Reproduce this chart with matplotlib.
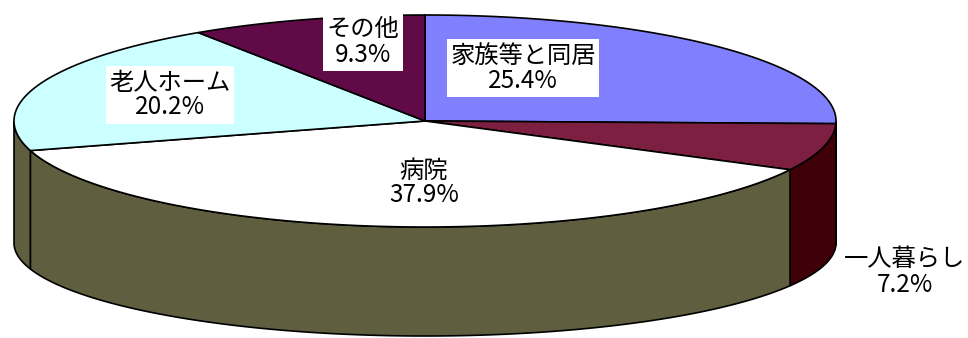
import numpy as np
import matplotlib.pyplot as plt
from matplotlib.patches import Polygon

plt.rcParams['font.family'] = ['Noto Sans CJK JP', 'DejaVu Sans']

# 退院先の内訳 (%)
labels = ['家族等と同居', '一人暮らし', '病院', '老人ホーム', 'その他']
shares = [25.4, 7.2, 37.9, 20.2, 9.3]
top_colors = ['#8080ff', '#7d1f40', '#ffffff', '#ccffff', '#600a48']
side_colors = ['#404080', '#3f0008', '#5f5f40', '#5f5f40', '#300024']

# ラベル位置 (ピクセル座標)
label_pos = [(523, 68), (905, 272), (424, 183), (170, 95), (363, 42)]

# 3D円グラフの形状
cx, cy = 425, 121
rx, ry = 411, 106
depth = 122
ry_bottom = 93


def rim(t, y0, r_y):
    t = np.radians(t)
    return cx + rx * np.sin(t), y0 - r_y * np.cos(t)


fig = plt.figure(figsize=(9.68, 3.38), dpi=100)
ax = fig.add_axes([0, 0, 1, 1])
ax.set_xlim(0, 968)
ax.set_ylim(338, 0)
ax.axis('off')

bounds = np.concatenate([[0], np.cumsum(shares)]) * 360 / 100

# 側面 (手前側 90°〜270° のみ見える)
for i in range(len(shares)):
    a = max(bounds[i], 90)
    b = min(bounds[i + 1], 270)
    if a >= b:
        continue
    t = np.linspace(a, b, 200)
    xt, yt = rim(t, cy, ry)
    xb, yb = rim(t[::-1], cy + depth, ry_bottom)
    pts = np.column_stack([np.concatenate([xt, xb]), np.concatenate([yt, yb])])
    ax.add_patch(Polygon(pts, closed=True, facecolor=side_colors[i],
                         edgecolor='black', linewidth=1.2, zorder=1))

# 上面
for i in range(len(shares)):
    t = np.linspace(bounds[i], bounds[i + 1], 300)
    x, y = rim(t, cy, ry)
    pts = np.column_stack([np.concatenate([[cx], x]), np.concatenate([[cy], y])])
    ax.add_patch(Polygon(pts, closed=True, facecolor=top_colors[i],
                         edgecolor='black', linewidth=1.2, zorder=2))

for lab, val, (x, y) in zip(labels, shares, label_pos):
    ax.text(x, y, f'{lab}\n{val:.1f}%', ha='center', va='center',
            fontsize=17.5, linespacing=0.95, color='black', zorder=5,
            bbox=dict(facecolor='white', edgecolor='none', pad=2.5))

fig.savefig('out.png', dpi=100)
